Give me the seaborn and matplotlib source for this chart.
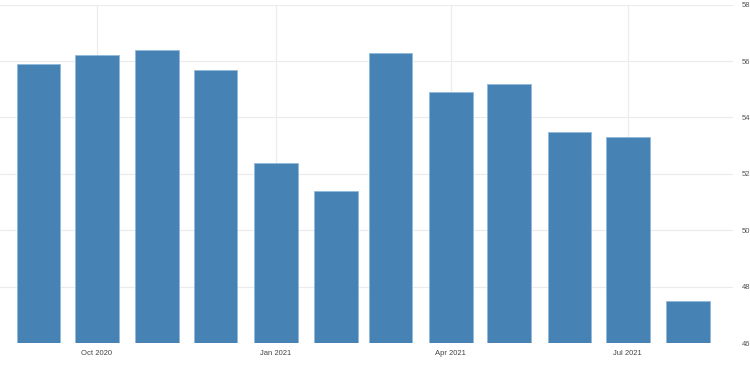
import matplotlib
matplotlib.use("Agg")
import matplotlib.pyplot as plt
import matplotlib.dates as mdates
import seaborn as sns
import pandas as pd

# ---- data ----
months = ["2020-09-01", "2020-10-01", "2020-11-01", "2020-12-01",
          "2021-01-01", "2021-02-01", "2021-03-01", "2021-04-01",
          "2021-05-01", "2021-06-01", "2021-07-01", "2021-08-01"]
values = [55.9, 56.2, 56.4, 55.7, 52.4, 51.4, 56.3, 54.9, 55.2, 53.5, 53.3, 47.5]
y_ticks = [46, 48, 50, 52, 54, 56, 58]
x_tick_dates = ["2020-10-01", "2021-01-01", "2021-04-01", "2021-07-01"]
x_tick_labels = ["Oct 2020", "Jan 2021", "Apr 2021", "Jul 2021"]

sns.set_style("white")
plt.rcParams['font.family'] = ['Liberation Sans', 'DejaVu Sans']

dates = pd.to_datetime(months)
xnum = mdates.date2num(dates.to_pydatetime())
df = pd.DataFrame({"x": xnum, "v": values})

fig = plt.figure(figsize=(7.5, 3.75), dpi=100)
ax = fig.add_axes([0.0, 32 / 375, 733 / 750, (370.3 - 32) / 375])

sns.barplot(data=df, x="x", y="v", native_scale=True, color="#4682b4",
            saturation=1, edgecolor="#8fb9dc", linewidth=0.6, ax=ax, zorder=3)

ax.set_ylim(46, 58)
ax.set_xlim(xnum[0] - 19.8, xnum[-1] + 23.1)

ax.yaxis.tick_right()
ax.set_yticks(y_ticks)
ax.set_yticklabels([str(t) for t in y_ticks])
xt = mdates.date2num(pd.to_datetime(x_tick_dates).to_pydatetime())
ax.set_xticks(xt)
ax.set_xticklabels(x_tick_labels)

ax.tick_params(axis="y", length=0, pad=6.5, labelsize=5.5, labelcolor="#555555")
ax.tick_params(axis="x", length=2, width=0.6, color="#cccccc", pad=3,
               labelsize=5.5, labelcolor="#444444")

ax.grid(True, color="#ebebeb", linewidth=0.8, zorder=0)
ax.set_axisbelow(True)
for s in ax.spines.values():
    s.set_visible(False)
ax.set_xlabel("")
ax.set_ylabel("")

fig.savefig("out.png", dpi=100)
